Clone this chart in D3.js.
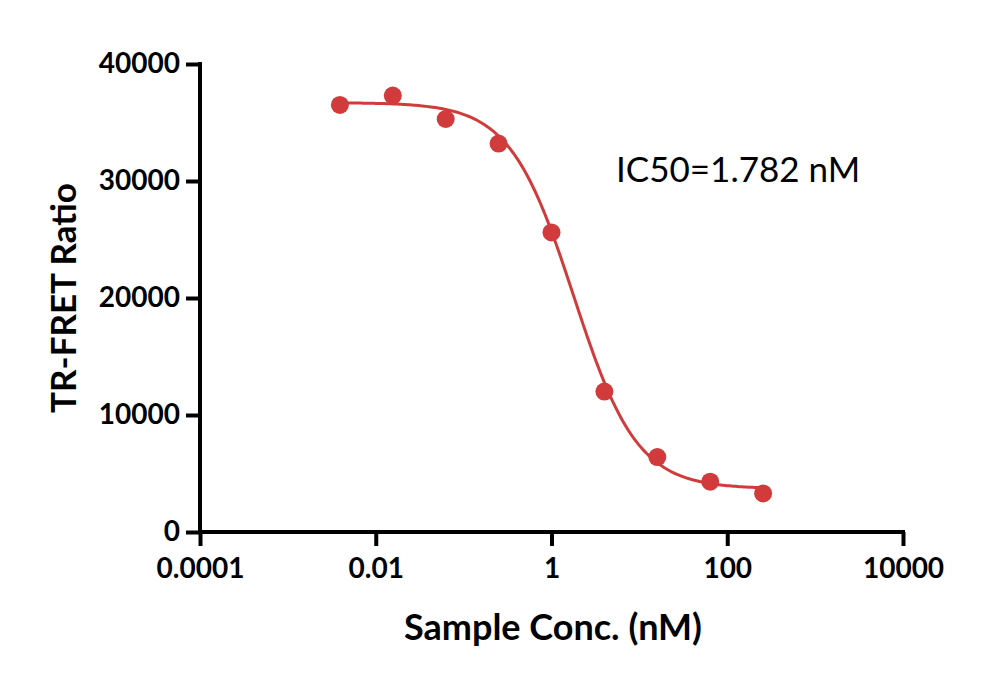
<!DOCTYPE html>
<html><head><meta charset="utf-8">
<script src="https://cdn.jsdelivr.net/npm/d3@7"></script>
<style>body{margin:0;background:#fff;} svg{display:block;}</style>
</head><body>
<svg id="c" width="1000" height="681"></svg>
<script>
const concentrations = [0.00390625, 0.015625, 0.0625, 0.25, 1, 4, 16, 64, 256];
const ratios = [36500, 37300, 35300, 33200, 25600, 12000, 6400, 4300, 3300];
const xTicks = [0.0001, 0.01, 1, 100, 10000];
const xTickLabels = ["0.0001", "0.01", "1", "100", "10000"];
const yTicks = [0, 10000, 20000, 30000, 40000];
// 4PL fit parameters (as shown by the fitted curve)
const fitTop = 36700, fitBottom = 3700, fitIC50 = 1.782, fitHill = 1.2;
const annotation = "IC50=1.782 nM";

const svg = d3.select("#c");
const font = "Lato, 'Open Sans', sans-serif";
const color = "#d13b3b";
const x = d3.scaleLog().domain([0.0001, 10000]).range([200, 903]);
const y = d3.scaleLinear().domain([0, 40000]).range([532, 64]);

const xa = svg.append("g").attr("transform","translate(0,532)")
  .call(d3.axisBottom(x).tickValues(xTicks).tickFormat((d,i)=>xTickLabels[i]).tickSize(14).tickPadding(12));
const ya = svg.append("g").attr("transform","translate(200,0)")
  .call(d3.axisLeft(y).tickValues(yTicks).tickFormat(d=>String(d)).tickSize(14).tickPadding(6));
[xa, ya].forEach(a=>{
  a.select(".domain").attr("stroke","#000").attr("stroke-width",4);
  a.selectAll(".tick line").attr("stroke","#000").attr("stroke-width",4);
  a.selectAll(".tick text").attr("fill","#000").attr("font-family",font).attr("font-weight","bold").attr("font-size",28);
});
xa.select(".domain").attr("d","M198,0H905");
ya.select(".domain").attr("d","M0,62V534");

// fitted curve
const fit = c => fitBottom + (fitTop - fitBottom) / (1 + Math.pow(c / fitIC50, fitHill));
const lo = Math.log10(concentrations[0]), hi = Math.log10(concentrations[concentrations.length-1]);
const curvePts = d3.range(0, 201).map(i => {
  const c = Math.pow(10, lo + i/200*(hi - lo));
  return [c, fit(c)];
});
svg.append("path").datum(curvePts)
  .attr("d", d3.line().x(d=>x(d[0])).y(d=>y(d[1])))
  .attr("fill","none").attr("stroke",color).attr("stroke-width",3);

svg.selectAll("circle.pt").data(concentrations).join("circle")
  .attr("class","pt").attr("cx",d=>x(d)).attr("cy",(d,i)=>y(ratios[i])).attr("r",9).attr("fill",color);

svg.append("text").attr("x",553).attr("y",640).attr("text-anchor","middle")
  .attr("font-family",font).attr("font-weight","bold").attr("font-size",36).text("Sample Conc. (nM)");
svg.append("text").attr("transform","translate(76,298) rotate(-90)").attr("text-anchor","middle")
  .attr("font-family",font).attr("font-weight","bold").attr("font-size",35).text("TR-FRET Ratio");
svg.append("text").attr("x",616).attr("y",182)
  .attr("font-family",font).attr("font-size",35).text(annotation);
</script>
</body></html>
